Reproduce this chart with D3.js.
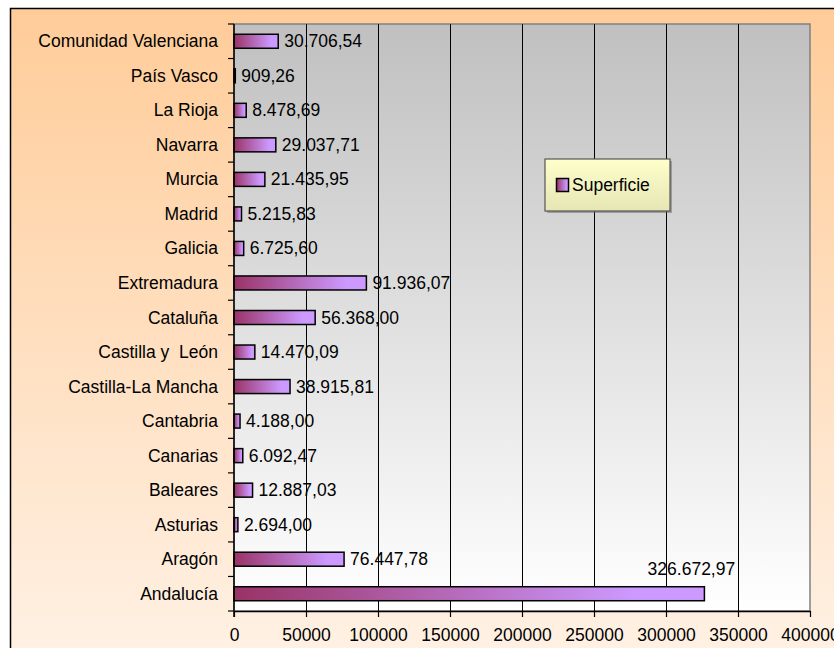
<!DOCTYPE html>
<html>
<head>
<meta charset="utf-8">
<script src="https://cdn.jsdelivr.net/npm/d3@7"></script>
<style>
  body { margin: 0; background: #fff; }
  text { font-family: "Liberation Sans", Arial, sans-serif; font-size: 17.5px; fill: #000; }
</style>
</head>
<body>
<script>
// categories listed top to bottom as in the chart
const regions = ["Comunidad Valenciana", "País Vasco", "La Rioja", "Navarra", "Murcia", "Madrid",
  "Galicia", "Extremadura", "Cataluña", "Castilla y  León", "Castilla-La Mancha", "Cantabria",
  "Canarias", "Baleares", "Asturias", "Aragón", "Andalucía"]
const superficie = [30706.54, 909.26, 8478.69, 29037.71, 21435.95, 5215.83,
  6725.60, 91936.07, 56368.00, 14470.09, 38915.81, 4188.00,
  6092.47, 12887.03, 2694.00, 76447.78, 326672.97]
const xTicks = [0, 50000, 100000, 150000, 200000, 250000, 300000, 350000, 400000]
const seriesName = "Superficie"

const width = 834, height = 648
const plot = { left: 234, top: 24, right: 810, bottom: 611 }

const es = d3.formatLocale({ decimal: ",", thousands: ".", grouping: [3], currency: ["", "€"] })
const fmt = es.format(",.2f")

const svg = d3.select("body").append("svg")
  .attr("width", width)
  .attr("height", height)

const defs = svg.append("defs")

const outerGrad = defs.append("linearGradient").attr("id", "outerGrad")
  .attr("x1", 0).attr("y1", 0).attr("x2", 0).attr("y2", 1)
outerGrad.append("stop").attr("offset", 0).attr("stop-color", "#ffcc99")
outerGrad.append("stop").attr("offset", 1).attr("stop-color", "#fff4ea")

const plotGrad = defs.append("linearGradient").attr("id", "plotGrad")
  .attr("x1", 0).attr("y1", 0).attr("x2", 0).attr("y2", 1)
plotGrad.append("stop").attr("offset", 0).attr("stop-color", "#c0c0c0")
plotGrad.append("stop").attr("offset", 1).attr("stop-color", "#ffffff")

const barGrad = defs.append("linearGradient").attr("id", "barGrad")
  .attr("x1", 0).attr("y1", 0).attr("x2", 1).attr("y2", 0)
barGrad.append("stop").attr("offset", 0).attr("stop-color", "#993366")
barGrad.append("stop").attr("offset", 0.85).attr("stop-color", "#cc99ff")
barGrad.append("stop").attr("offset", 1).attr("stop-color", "#cc99ff")

const legGrad = defs.append("linearGradient").attr("id", "legGrad")
  .attr("x1", 0).attr("y1", 0).attr("x2", 0).attr("y2", 1)
legGrad.append("stop").attr("offset", 0).attr("stop-color", "#ffffcc")
legGrad.append("stop").attr("offset", 1).attr("stop-color", "#e6e6b4")

// outer chart area
svg.append("rect")
  .attr("x", 10.5).attr("y", 8.5)
  .attr("width", 900).attr("height", 700)
  .attr("fill", "url(#outerGrad)")
  .attr("stroke", "#000")
  .attr("stroke-width", 1.5)

const x = d3.scaleLinear().domain([0, 400000]).range([plot.left, plot.right])
const yBand = d3.scaleBand().domain(regions).range([plot.top, plot.bottom])

// plot area
svg.append("rect")
  .attr("x", plot.left).attr("y", plot.top)
  .attr("width", plot.right - plot.left).attr("height", plot.bottom - plot.top)
  .attr("fill", "url(#plotGrad)")
  .attr("stroke", "#808080")
  .attr("stroke-width", 1.5)

// gridlines
svg.append("g")
  .selectAll("line")
  .data(xTicks.slice(1, -1))
  .join("line")
  .attr("x1", d => x(d) + 0.5).attr("x2", d => x(d) + 0.5)
  .attr("y1", plot.top).attr("y2", plot.bottom)
  .attr("stroke", "#000")
  .attr("stroke-width", 1)

// bars
svg.append("g")
  .selectAll("rect")
  .data(regions)
  .join("rect")
  .attr("x", x(0))
  .attr("y", d => yBand(d) + yBand.bandwidth() / 2 - 7)
  .attr("width", (d, i) => x(superficie[i]) - x(0))
  .attr("height", 14)
  .attr("fill", "url(#barGrad)")
  .attr("stroke", "#000")
  .attr("stroke-width", 1.5)

// value labels
const last = regions.length - 1
svg.append("g")
  .selectAll("text")
  .data(regions)
  .join("text")
  .attr("x", (d, i) => i === last ? x(superficie[i]) - 13 : x(superficie[i]) + 6)
  .attr("y", (d, i) => yBand(d) + yBand.bandwidth() / 2 + (i === last ? -19 : 6))
  .attr("text-anchor", (d, i) => i === last ? "middle" : "start")
  .text((d, i) => fmt(superficie[i]))

// y axis
const yAxis = svg.append("g")
yAxis.append("line")
  .attr("x1", plot.left).attr("x2", plot.left)
  .attr("y1", plot.top).attr("y2", plot.bottom + 6)
  .attr("stroke", "#000").attr("stroke-width", 1.5)
yAxis.selectAll("line.tick")
  .data(regions.concat(["end"]))
  .join("line")
  .attr("class", "tick")
  .attr("x1", plot.left - 6).attr("x2", plot.left)
  .attr("y1", (d, i) => i < regions.length ? yBand(d) : plot.bottom)
  .attr("y2", (d, i) => i < regions.length ? yBand(d) : plot.bottom)
  .attr("stroke", "#000").attr("stroke-width", 1.2)
yAxis.selectAll("text")
  .data(regions)
  .join("text")
  .attr("x", plot.left - 16)
  .attr("y", d => yBand(d) + yBand.bandwidth() / 2 + 6)
  .attr("text-anchor", "end")
  .style("white-space", "pre")
  .text(d => d)

// x axis
const xAxis = svg.append("g")
  .attr("transform", `translate(0,${plot.bottom})`)
  .call(d3.axisBottom(x).tickValues(xTicks).tickSize(6).tickSizeOuter(0).tickFormat(d3.format("d")))
xAxis.select(".domain").attr("stroke", "#000").attr("stroke-width", 1.5)
xAxis.selectAll(".tick line").attr("stroke", "#000").attr("stroke-width", 1.2)
xAxis.selectAll(".tick text")
  .attr("y", 18)
  .attr("dy", "0.71em")
  .style("font-size", "17.5px")
  .style("font-family", "Liberation Sans, Arial, sans-serif")
  .attr("fill", "#000")

// legend
const legend = svg.append("g").attr("transform", "translate(545,159)")
legend.append("rect")
  .attr("x", 2).attr("y", 2).attr("width", 125).attr("height", 52)
  .attr("fill", "#666").attr("opacity", 0.5)
legend.append("rect")
  .attr("width", 125).attr("height", 52)
  .attr("fill", "url(#legGrad)")
  .attr("stroke", "#555")
  .attr("stroke-width", 1.2)
legend.append("rect")
  .attr("x", 11.5).attr("y", 19.5).attr("width", 12).attr("height", 13)
  .attr("fill", "url(#barGrad)")
  .attr("stroke", "#000")
  .attr("stroke-width", 1.5)
legend.append("text")
  .attr("x", 27).attr("y", 32)
  .text(seriesName)
</script>
</body>
</html>
